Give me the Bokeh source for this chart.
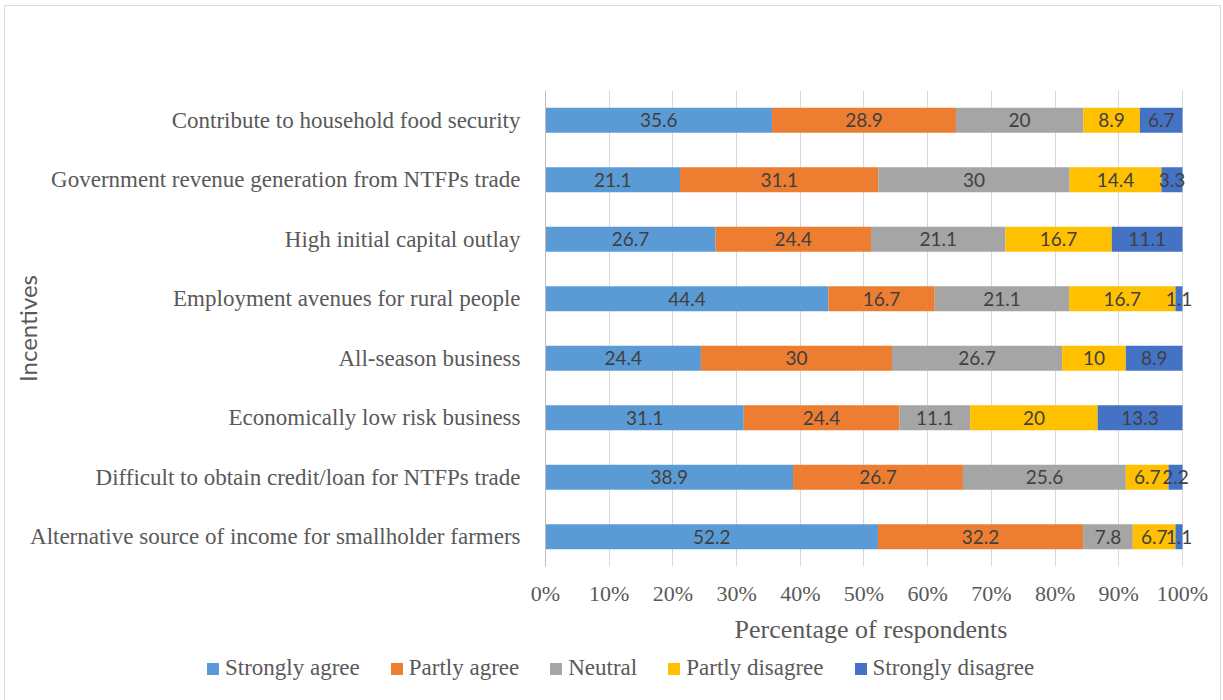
from bokeh.plotting import figure
from bokeh.layouts import column
from bokeh.models import (ColumnDataSource, FactorRange, Range1d, NumeralTickFormatter,
                          FixedTicker, Legend, LegendItem)
from bokeh.embed import file_html
from bokeh.resources import INLINE
from bokeh.core.properties import value

# ---------------- data ----------------
incentives = [
    "Alternative source of income for smallholder farmers",
    "Difficult to obtain credit/loan for NTFPs trade",
    "Economically low risk business",
    "All-season business",
    "Employment avenues for rural people",
    "High initial capital outlay",
    "Government revenue generation from NTFPs trade",
    "Contribute to household food security",
]
series_names = ["Strongly agree", "Partly agree", "Neutral", "Partly disagree", "Strongly disagree"]
strongly_agree = [52.2, 38.9, 31.1, 24.4, 44.4, 26.7, 21.1, 35.6]
partly_agree = [32.2, 26.7, 24.4, 30, 16.7, 24.4, 31.1, 28.9]
neutral = [7.8, 25.6, 11.1, 26.7, 21.1, 21.1, 30, 20]
partly_disagree = [6.7, 6.7, 20, 10, 16.7, 16.7, 14.4, 8.9]
strongly_disagree = [1.1, 2.2, 13.3, 8.9, 1.1, 11.1, 3.3, 6.7]
x_ticks = [0, 0.1, 0.2, 0.3, 0.4, 0.5, 0.6, 0.7, 0.8, 0.9, 1.0]
colors = ["#5B9BD5", "#ED7D31", "#A5A5A5", "#FFC000", "#4472C4"]

series = [strongly_agree, partly_agree, neutral, partly_disagree, strongly_disagree]
totals = [sum(v[i] for v in series) for i in range(len(incentives))]

SERIF = "Liberation Serif"
SANS = "Lato"
GREY = "#595959"
W = 1213

# x range extends a little past 100% so overflowing bar labels are not clipped
p = figure(width=W, height=643, y_range=FactorRange(*incentives),
           x_range=Range1d(0, 1.022), output_backend="svg", toolbar_location=None,
           min_border_left=539, min_border_right=23, min_border_top=83,
           min_border_bottom=84)
p.frame_align = False
p.outline_line_color = None
p.background_fill_color = "white"
p.border_fill_color = "white"

renderers = []
left = [0.0] * len(incentives)
for name, vals, col in zip(series_names, series, colors):
    fr = [v / t for v, t in zip(vals, totals)]
    right = [l + f for l, f in zip(left, fr)]
    src = ColumnDataSource(dict(
        cat=incentives, left=left, right=right,
        mid=[(l + r) / 2 for l, r in zip(left, right)],
        lbl=[f"{v:g}" for v in vals]))
    r = p.hbar(y="cat", left="left", right="right", height=0.42, source=src,
               fill_color=col, line_color=None)
    p.text(x="mid", y="cat", text="lbl", source=src, text_align="center",
           text_baseline="middle", text_color="#404040",
           text_font=value(SANS), text_font_size="19px")
    renderers.append(r)
    left = right

# axes
p.xaxis.ticker = FixedTicker(ticks=x_ticks)
p.xaxis.formatter = NumeralTickFormatter(format="0%")
p.xaxis.axis_line_color = None
p.xaxis.major_tick_line_color = None
p.xaxis.minor_tick_line_color = None
p.xaxis.major_label_text_font = SERIF
p.xaxis.major_label_text_font_size = "22px"
p.xaxis.major_label_text_color = GREY
p.xaxis.major_label_standoff = 8
p.xaxis.axis_label = "Percentage of respondents"
p.xaxis.axis_label_text_font = SERIF
p.xaxis.axis_label_text_font_size = "26px"
p.xaxis.axis_label_text_font_style = "normal"
p.xaxis.axis_label_text_color = GREY
p.xaxis.axis_label_standoff = 6

p.yaxis.axis_line_color = "#BFBFBF"
p.yaxis.major_tick_line_color = None
p.yaxis.minor_tick_line_color = None
p.yaxis.major_label_text_font = SERIF
p.yaxis.major_label_text_font_size = "23px"
p.yaxis.major_label_text_color = GREY
p.yaxis.major_label_standoff = 19
p.yaxis.axis_label = "Incentives"
p.yaxis.axis_label_text_font = SANS
p.yaxis.axis_label_text_font_size = "24px"
p.yaxis.axis_label_text_font_style = "normal"
p.yaxis.axis_label_text_color = GREY
p.yaxis.axis_label_standoff = -15

p.xgrid.ticker = FixedTicker(ticks=x_ticks)
p.xgrid.grid_line_color = "#D9D9D9"
p.ygrid.grid_line_color = None

# ---- legend strip (separate figure under the chart) ----
LH = 49
lg = figure(width=W, height=LH, x_range=Range1d(0, 1), y_range=Range1d(0, 1),
            output_backend="svg", toolbar_location=None,
            min_border_left=0, min_border_right=0, min_border_top=0, min_border_bottom=0)
lg.frame_align = False
lg.axis.visible = False
lg.grid.visible = False
lg.outline_line_color = None
lg.background_fill_color = "white"
lg.border_fill_color = "white"
dummy = []
for col in colors:
    dummy.append(lg.hbar(y=[10], left=[10], right=[11], height=0.5,
                         fill_color=col, line_color=None))

legend = Legend(items=[LegendItem(label=n, renderers=[r]) for n, r in zip(series_names, dummy)],
                orientation="horizontal", location=(199, 18))
legend.label_text_font = SERIF
legend.label_text_font_size = "23px"
legend.label_text_color = GREY
legend.glyph_width = 15
legend.glyph_height = 15
legend.label_height = 15
legend.label_standoff = 5
legend.spacing = 29
legend.padding = 0
legend.margin = 0
legend.border_line_color = None
legend.background_fill_alpha = 0
lg.add_layout(legend, "center")

layout = column(p, lg, spacing=0)
layout.margin = (7, 0, 0, 6)
layout.styles = {"outline": "1px solid #D9D9D9", "outline-offset": "1px"}

open("out.html", "w").write(file_html(layout, INLINE))
